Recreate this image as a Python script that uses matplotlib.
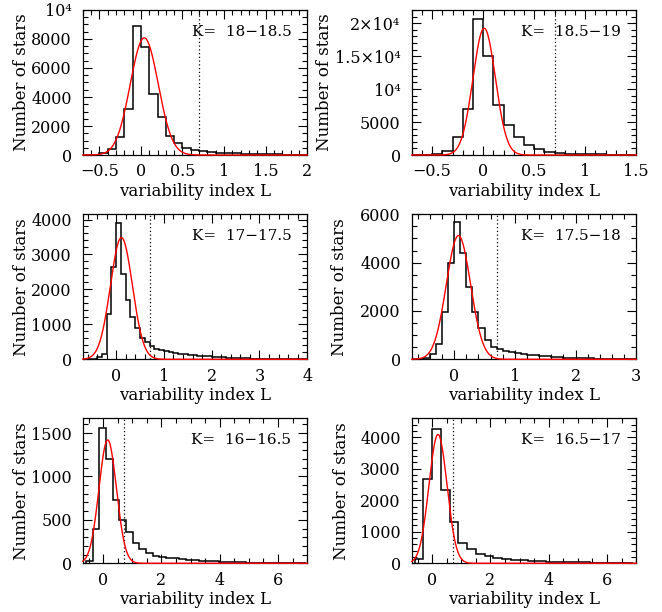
import numpy as np
import matplotlib
matplotlib.use("Agg")
from matplotlib import pyplot as plt
from matplotlib.ticker import MultipleLocator, FuncFormatter

plt.rcParams['font.family'] = 'DejaVu Serif'
plt.rcParams['mathtext.fontset'] = 'dejavuserif'
plt.rcParams['font.size'] = 11

# K magnitude bins, in panel order (row by row, left then right)
k_bins = ["18\u221218.5", "18.5\u221219", "17\u221217.5",
          "17.5\u221218", "16\u221216.5", "16.5\u221217"]

# histogram: first bin edge, bin width, counts
hist_start = [-0.7, -0.7, -0.7, -0.7, -0.588, -0.6]
hist_width = [0.1, 0.1, 0.1, 0.1, 0.229, 0.3]

counts_18 = [10, 30, 110, 390, 1260, 3200, 8920, 7440, 4190, 2630, 1300,
             800, 470, 340, 270, 200, 160,
             130, 110, 90, 75, 60, 50, 40, 32, 25, 20]
counts_185 = [10, 30, 150, 650, 2670, 7050, 20640, 14950, 7650, 4480,
              2670, 1510, 850, 500, 320, 220, 160, 120, 90, 70, 55, 45]
counts_17 = [0, 5, 20, 80, 150, 1300, 2630, 3890, 2450, 1700, 1220, 890,
             620, 500, 370, 300, 260, 230, 205, 185, 165, 150, 135, 120,
             105, 95, 85, 75, 65, 55, 48, 42, 36, 30, 25, 20, 16, 12, 10,
             8, 6, 5, 4, 3, 2, 2, 1]
counts_175 = [0, 15, 70, 207, 620, 1970, 3970, 5670, 4385, 3006, 1970, 1280,
              800, 524, 430, 345, 290, 250, 215, 185, 160, 138, 118, 100,
              85, 72, 60, 50, 42, 35, 29, 24, 19, 15, 12, 9, 7]
counts_16 = [25, 400, 1557, 1195, 733, 496, 355, 237, 160, 115, 88, 76, 65,
             57, 50, 42, 36, 30, 25, 21, 18, 15, 12, 10, 8, 6, 5, 4, 3, 2,
             2, 1, 1]
counts_165 = [130, 2685, 4243, 2316, 1316, 653, 442, 295, 242, 158, 130, 110,
              90, 78, 66, 55, 46, 38, 31, 25, 20, 16, 12, 9, 7]
all_counts = [counts_18, counts_185, counts_17, counts_175, counts_16, counts_165]

# gaussian fits: amplitude, mean, sigma
fit_amp = [8080, 19230, 3485, 5116, 1420, 4085]
fit_mean = [0.04, 0.01, 0.11, 0.07, 0.156, 0.2]
fit_sigma = [0.168, 0.11, 0.23, 0.2, 0.3, 0.31]

cut_L = 0.7

# axes limits and ticks
x_max = [2, 1.5, 4, 3, 7, 7]
x_major = [0.5, 0.5, 1, 1, 2, 2]
x_minor = [0.1, 0.1, 0.2, 0.2, 0.5, 0.5]
y_max = [10000, 22000, 4150, 6000, 1670, 4600]
y_ticks = [[0, 2000, 4000, 6000, 8000, 10000],
           [0, 5000, 10000, 15000, 20000],
           [0, 1000, 2000, 3000, 4000],
           [0, 2000, 4000, 6000],
           [0, 500, 1000, 1500],
           [0, 1000, 2000, 3000, 4000]]
y_ticklabels = [["0", "2000", "4000", "6000", "8000", "10\u2074"],
                ["0", "5000", "10\u2074", "1.5\u00d710\u2074", "2\u00d710\u2074"],
                ["0", "1000", "2000", "3000", "4000"],
                ["0", "2000", "4000", "6000"],
                ["0", "500", "1000", "1500"],
                ["0", "1000", "2000", "3000", "4000"]]
y_minor = [500, 1000, 200, 500, 100, 200]
ylabel_x = [-0.235, -0.35, -0.235, -0.285, -0.235, -0.275]


def fmt_x(v, pos):
    return ("%g" % v).replace("-", "\u2212")


fig = plt.figure(figsize=(6.62, 6.12), dpi=100)
lefts = [0.125, 0.622]
bottoms = [0.7467, 0.4129, 0.0796]

for i in range(6):
    row, col = divmod(i, 2)
    ax = fig.add_axes([lefts[col], bottoms[row], 0.339, 0.237])
    edges = hist_start[i] + hist_width[i] * np.arange(len(all_counts[i]) + 1)
    ax.stairs(all_counts[i], edges, color='black', lw=1.1, baseline=0)

    xs = np.linspace(-0.7, x_max[i], 600)
    ys = fit_amp[i] * np.exp(-0.5 * ((xs - fit_mean[i]) / fit_sigma[i]) ** 2)
    ax.plot(xs, ys, color='red', lw=1.0, zorder=3, clip_on=False)

    ax.axvline(cut_L, color='black', lw=0.9, ls=(0, (1, 2)))

    ax.set_xlim(-0.7, x_max[i])
    ax.set_ylim(0, y_max[i])
    ax.xaxis.set_major_locator(MultipleLocator(x_major[i]))
    ax.xaxis.set_minor_locator(MultipleLocator(x_minor[i]))
    ax.xaxis.set_major_formatter(FuncFormatter(fmt_x))
    ax.set_yticks(y_ticks[i], y_ticklabels[i])
    ax.yaxis.set_minor_locator(MultipleLocator(y_minor[i]))
    ax.tick_params(which='both', direction='in', top=True, right=True,
                   width=0.8, labelsize=11.5)
    ax.tick_params(which='major', length=6.5, pad=6)
    ax.tick_params(which='minor', length=3.5)
    ax.tick_params(axis='y', which='major', pad=8)
    for s in ax.spines.values():
        s.set_linewidth(0.9)

    ax.set_xlabel('variability index L', fontsize=12)
    ax.set_ylabel('Number of stars', fontsize=12)
    ax.xaxis.set_label_coords(0.5, -0.19)
    ax.yaxis.set_label_coords(ylabel_x[i], 0.5)

    ax.text(0.93, 0.85, "K=  " + k_bins[i], transform=ax.transAxes,
            ha='right', va='center', fontsize=11)

fig.savefig('out.png', dpi=100)
